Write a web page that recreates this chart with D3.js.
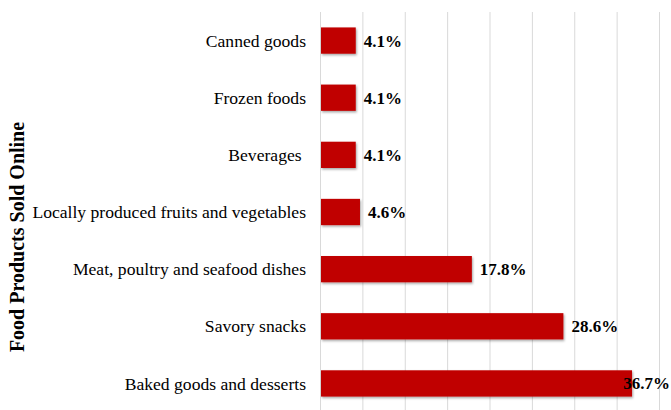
<!DOCTYPE html>
<html>
<head>
<meta charset="utf-8">
<script src="https://cdn.jsdelivr.net/npm/d3@7"></script>
<style>
  body { margin: 0; background: #fff; }
  svg text { font-family: "Liberation Serif", "Times New Roman", serif; }
</style>
</head>
<body>
<svg id="chart" width="671" height="410"></svg>
<script>
// data
var categories = ["Canned goods", "Frozen foods", "Beverages ", "Locally produced fruits and vegetables",
  "Meat, poultry and seafood dishes", "Savory snacks", "Baked goods and desserts"]
var shares = [4.1, 4.1, 4.1, 4.6, 17.8, 28.6, 36.7]
var gridTicks = [0, 5, 10, 15, 20, 25, 30, 35, 40]

var W = 671, H = 410
var svg = d3.select("#chart")

var x = d3.scaleLinear().domain([0, 40]).range([320, 659])
var y = d3.scaleBand().domain(categories).range([12, 412]).paddingInner(0.54).paddingOuter(0.27)

// drop shadow for bars
var defs = svg.append("defs")
var f = defs.append("filter").attr("id", "shadow").attr("x", "-5%").attr("y", "-20%").attr("width", "115%").attr("height", "160%")
f.append("feDropShadow").attr("dx", 1).attr("dy", 1.5).attr("stdDeviation", 1).attr("flood-color", "#000").attr("flood-opacity", 0.35)

// vertical gridlines
svg.append("g").selectAll("line").data(gridTicks).enter().append("line")
  .attr("x1", d => x(d) + 0.5).attr("x2", d => x(d) + 0.5)
  .attr("y1", 12).attr("y2", H)
  .attr("stroke", "#d9d9d9").attr("stroke-width", 1)

// bars
svg.append("g").selectAll("rect").data(shares).enter().append("rect")
  .attr("x", x(0) + 1)
  .attr("y", (d, i) => y(categories[i]))
  .attr("width", d => x(d) - x(0))
  .attr("height", y.bandwidth())
  .attr("fill", "#c00000")
  .attr("filter", "url(#shadow)")

// category labels
svg.append("g").selectAll("text").data(categories).enter().append("text")
  .attr("x", 306)
  .attr("y", d => y(d) + y.bandwidth() / 2)
  .attr("dy", "0.35em")
  .attr("text-anchor", "end")
  .attr("font-size", 17.6)
  .attr("fill", "#000")
  .style("white-space", "pre")
  .text(d => d)

// value labels
svg.append("g").selectAll("text").data(shares).enter().append("text")
  .attr("y", (d, i) => y(categories[i]) + y.bandwidth() / 2)
  .attr("dy", "0.35em")
  .attr("font-size", 17)
  .attr("font-weight", "bold")
  .attr("fill", "#000")
  .text(d => d.toFixed(1) + "%")
  .attr("x", function (d) {
    var w = this.getComputedTextLength()
    return Math.min(x(d) + 9, W - 1 - w)
  })

// y axis title
svg.append("text")
  .attr("transform", "translate(24," + 237 + ") rotate(-90)")
  .attr("text-anchor", "middle")
  .attr("font-size", 20)
  .attr("font-weight", "bold")
  .text("Food Products Sold Online")
</script>
</body>
</html>
